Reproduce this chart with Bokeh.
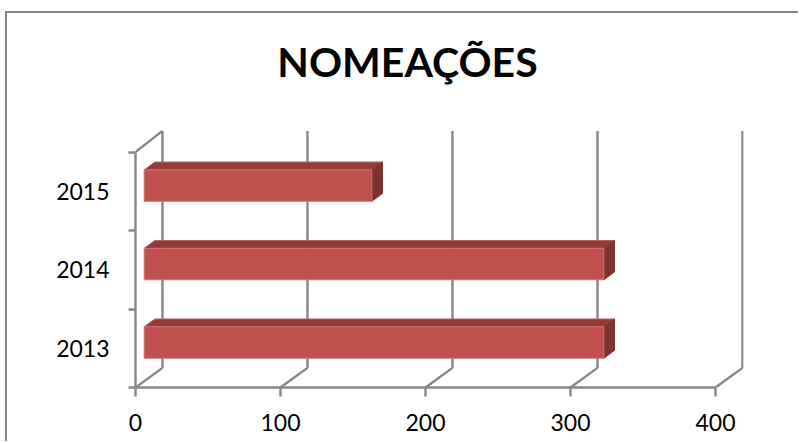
from bokeh.plotting import figure
from bokeh.models import Range1d, FixedTicker, LinearAxis, Label
from bokeh.embed import file_html
from bokeh.resources import INLINE

# data
years = ["2013", "2014", "2015"]
nomeacoes = [317, 317, 157]
value_ticks = [0, 100, 200, 300, 400]
chart_title = "NOMEAÇÕES"

# pseudo-3D styling (data units)
WALL_DX, WALL_DY = 18.6, 0.25
BAR_INSET = 6.0
BAR_HEIGHT = 0.40
BAR_SHIFT = 0.073
BAR_DX, BAR_DY = 7.3, 0.10
AXIS_COLOR = "#868686"
FONT = "Lato"
LW = 2.4

p = figure(width=793, height=430, output_backend="svg", toolbar_location=None,
           x_range=Range1d(0, 419.3), y_range=Range1d(0, 4.766),
           x_axis_type=None, y_axis_type=None,
           min_border_left=128, min_border_right=57, min_border_top=0, min_border_bottom=56,
           outline_line_color=None, background_fill_color="white", border_fill_color="white")
# chart-area border: the original frame shows only its left and top edges
p.styles = {"position": "absolute", "left": "5px", "top": "11px",
            "border-left": f"2px solid {AXIS_COLOR}", "border-top": f"2px solid {AXIS_COLOR}"}
p.grid.visible = False

# axes
xaxis = LinearAxis(ticker=FixedTicker(ticks=value_ticks), bounds=(0, 400))
xaxis.axis_line_color = AXIS_COLOR
xaxis.axis_line_width = LW
xaxis.major_tick_line_color = AXIS_COLOR
xaxis.major_tick_line_width = LW
xaxis.major_tick_in = 0
xaxis.major_tick_out = 9
xaxis.minor_tick_line_color = None
xaxis.major_label_standoff = 17
xaxis.major_label_text_font = FONT
xaxis.major_label_text_font_size = "23px"
xaxis.major_label_text_color = "black"
p.add_layout(xaxis, "below")

centres = [i + 0.5 for i in range(len(years))]
yaxis = LinearAxis(ticker=FixedTicker(ticks=centres, minor_ticks=list(range(len(years) + 1))),
                   bounds=(0, len(years)))
yaxis.major_label_overrides = {c: y for c, y in zip(centres, years)}
yaxis.axis_line_color = AXIS_COLOR
yaxis.axis_line_width = LW
yaxis.major_tick_line_color = None
yaxis.major_tick_in = 0
yaxis.major_tick_out = 0
yaxis.minor_tick_line_color = AXIS_COLOR
yaxis.minor_tick_line_width = LW
yaxis.minor_tick_in = 0
yaxis.minor_tick_out = 7
yaxis.major_label_standoff = 19
yaxis.major_label_text_font = FONT
yaxis.major_label_text_font_size = "23px"
yaxis.major_label_text_color = "black"
p.add_layout(yaxis, "left")

# wall gridlines and floor connectors
top = len(years) + 0.27
p.segment([t + WALL_DX for t in value_ticks], [WALL_DY] * 5,
          [t + WALL_DX for t in value_ticks], [top] * 5, line_color=AXIS_COLOR, line_width=LW)
p.segment(value_ticks, [0] * 5, [t + WALL_DX for t in value_ticks], [WALL_DY] * 5,
          line_color=AXIS_COLOR, line_width=LW)
p.segment([0], [len(years)], [WALL_DX], [top], line_color=AXIS_COLOR, line_width=LW)

# bars
front_x, front_y, top_x, top_y, side_x, side_y = [], [], [], [], [], []
for c, v in zip(centres, nomeacoes):
    x0, x1 = BAR_INSET, BAR_INSET + v
    y0 = c + BAR_SHIFT - BAR_HEIGHT / 2
    y1 = c + BAR_SHIFT + BAR_HEIGHT / 2
    front_x.append([x0, x1, x1, x0]); front_y.append([y0, y0, y1, y1])
    top_x.append([x0, x1, x1 + BAR_DX, x0 + BAR_DX]); top_y.append([y1, y1, y1 + BAR_DY, y1 + BAR_DY])
    side_x.append([x1, x1 + BAR_DX, x1 + BAR_DX, x1]); side_y.append([y0, y0 + BAR_DY, y1 + BAR_DY, y1])
p.patches(top_x, top_y, fill_color="#953A38", line_color="#B5605D", line_width=1)
p.patches(side_x, side_y, fill_color="#7F3230", line_color="#7F3230", line_width=1)
p.patches(front_x, front_y, fill_color="#C0504D", line_color="#CF7572", line_width=1)

# title
p.add_layout(Label(x=187.6, y=4.154, text=chart_title, text_font=FONT, text_font_style="bold",
                   text_font_size="41px", text_color="black", text_align="center",
                   text_baseline="alphabetic"))

open("out.html", "w").write(file_html(p, INLINE))
